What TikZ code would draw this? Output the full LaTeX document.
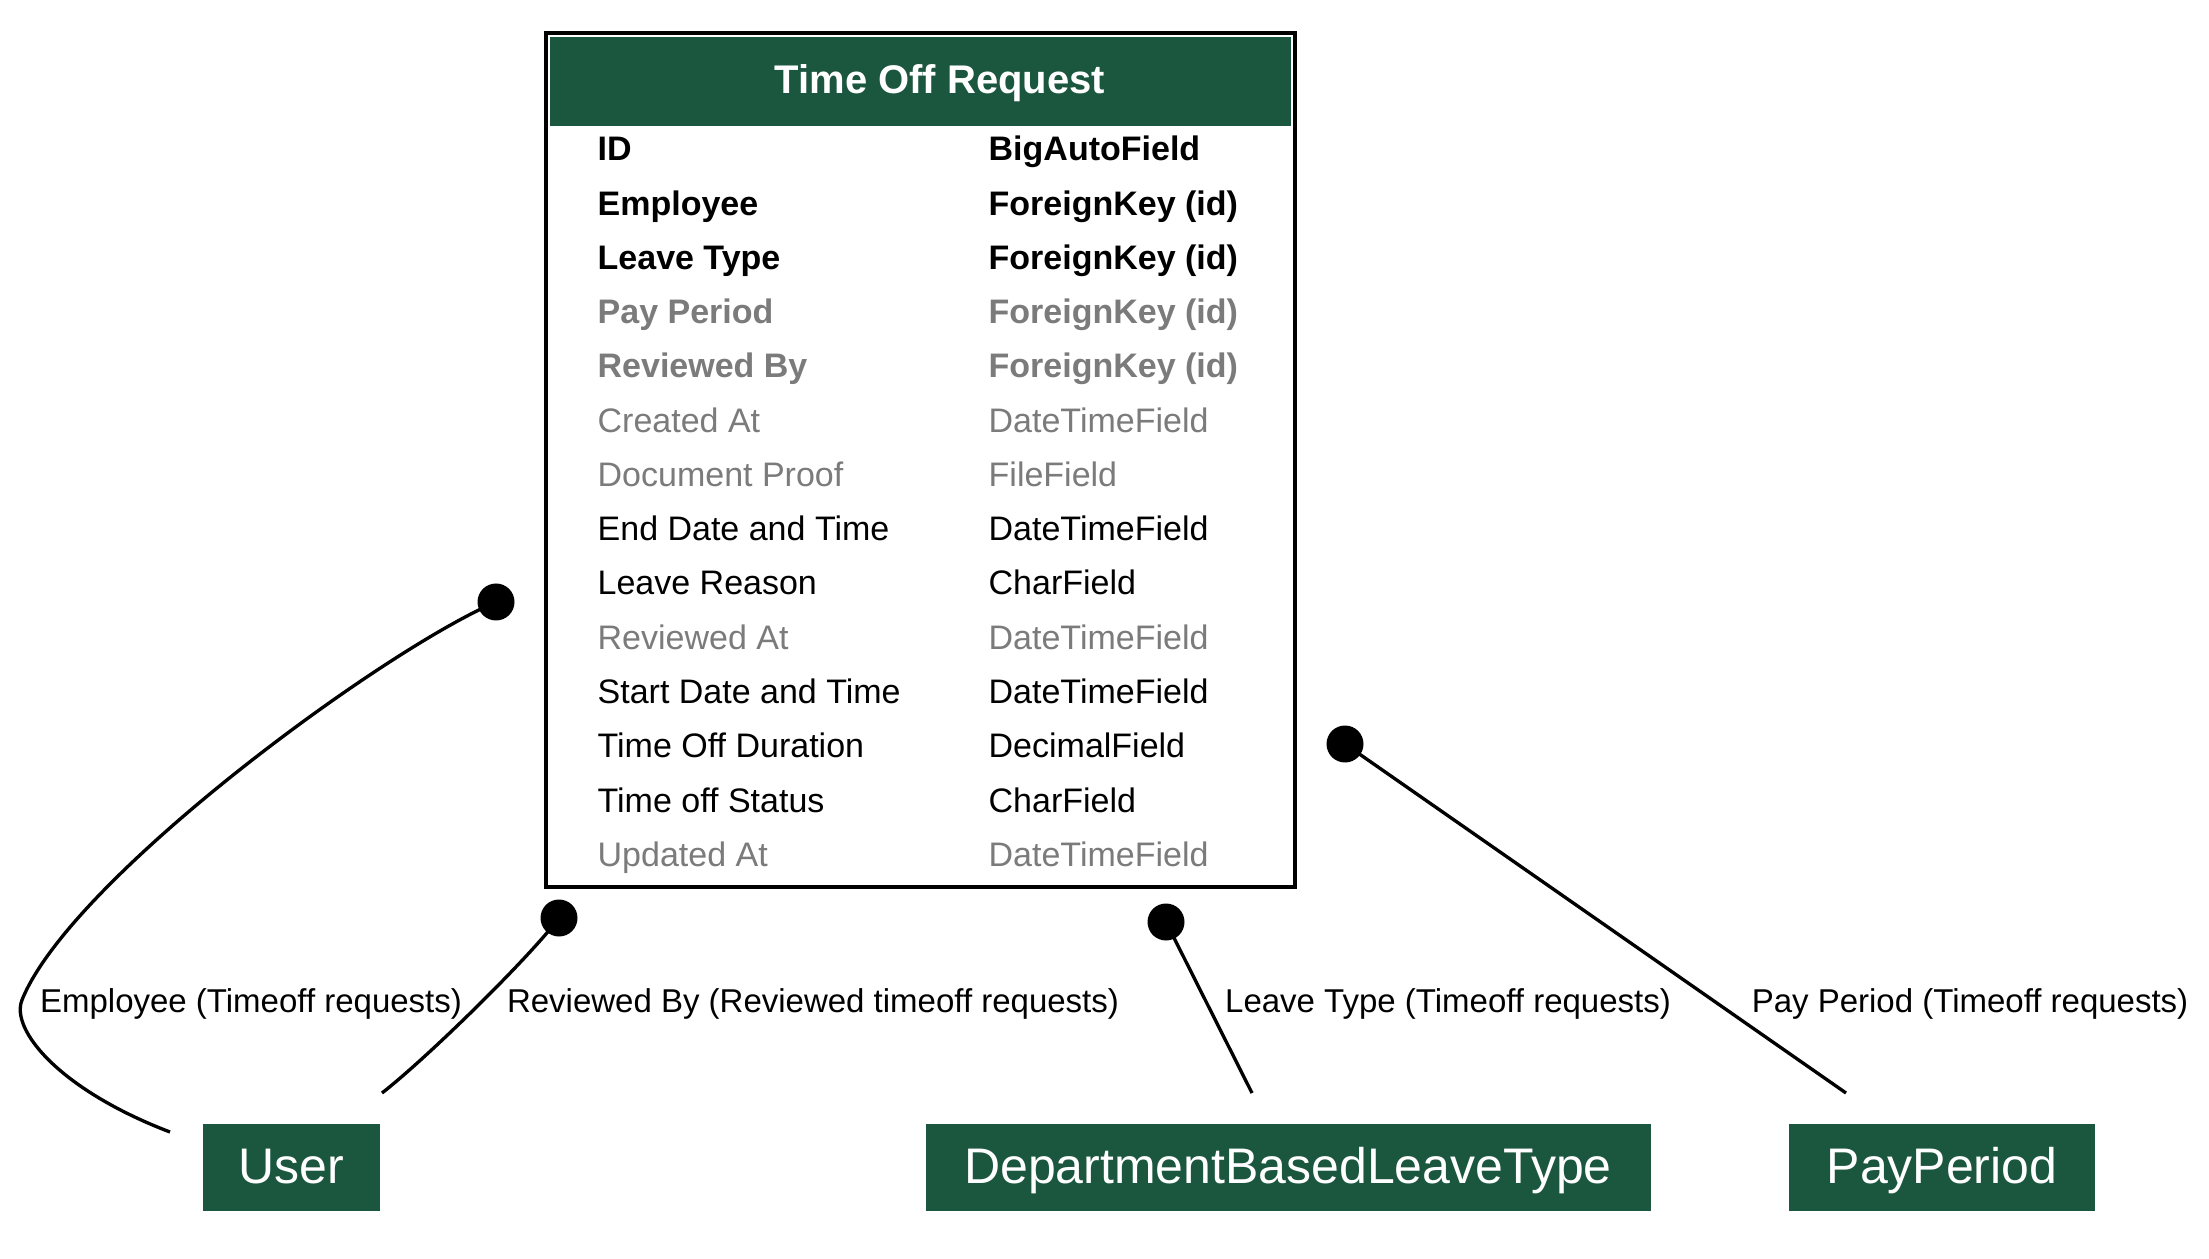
\documentclass[tikz,border=0pt]{standalone}
\usepackage{fontspec}
\setmainfont{Liberation Sans}
\definecolor{hdrgreen}{HTML}{1B563F}
\definecolor{nullgray}{HTML}{7B7B7B}
\begin{document}
\begin{tikzpicture}[x=0.3pt,y=-0.3pt,
  fieldtxt/.style={anchor=base west, inner sep=0pt, font=\fontsize{10.2}{12}\selectfont},
  fieldbold/.style={fieldtxt, font=\fontsize{10.2}{12}\selectfont\bfseries},
  nullbold/.style={fieldbold, text=nullgray},
  nulltxt/.style={fieldtxt, text=nullgray},
  tablebox/.style={draw=black, line width=1pt, fill=white, inner sep=0pt},
  modelbox/.style={fill=hdrgreen, text=white, inner sep=0pt, minimum height=26.1pt,
                   text height=9.3pt, text depth=0pt, font=\fontsize{15}{18}\selectfont},
  edgelabel/.style={anchor=base, inner sep=0pt, font=\fontsize{9.9}{12}\selectfont},
  relline/.style={draw=black, line width=1pt},
  dotend/.style={circle, fill=black, inner sep=0pt, minimum size=11.1pt}
]
\useasboundingbox (0,0) rectangle (2209,1259);

% main table
\node[tablebox, minimum width=224.7pt, minimum height=256.2pt] (tor) at (920.5,460) {};
\node[fill=hdrgreen, inner sep=0pt, minimum width=222.3pt, minimum height=26.7pt] (hdr) at (920.5,81.5) {};
\node[anchor=base, inner sep=0pt, text=white, font=\fontsize{12}{14}\selectfont\bfseries] (title) at (940,94) {Time Off Request};

% fields
\node[fieldbold] (f0) at (597,160.8) {ID};
\node[fieldbold] (t0) at (988,160.8) {BigAutoField};
\node[fieldbold] (f1) at (597,215.1) {Employee};
\node[fieldbold] (t1) at (988,215.1) {ForeignKey (id)};
\node[fieldbold] (f2) at (597,269.3) {Leave Type};
\node[fieldbold] (t2) at (988,269.3) {ForeignKey (id)};
\node[nullbold] (f3) at (597,323.6) {Pay Period};
\node[nullbold] (t3) at (988,323.6) {ForeignKey (id)};
\node[nullbold] (f4) at (597,377.9) {Reviewed By};
\node[nullbold] (t4) at (988,377.9) {ForeignKey (id)};
\node[nulltxt] (f5) at (597,432.2) {Created At};
\node[nulltxt] (t5) at (988,432.2) {DateTimeField};
\node[nulltxt] (f6) at (597,486.4) {Document Proof};
\node[nulltxt] (t6) at (988,486.4) {FileField};
\node[fieldtxt] (f7) at (597,540.7) {End Date and Time};
\node[fieldtxt] (t7) at (988,540.7) {DateTimeField};
\node[fieldtxt] (f8) at (597,595.0) {Leave Reason};
\node[fieldtxt] (t8) at (988,595.0) {CharField};
\node[nulltxt] (f9) at (597,649.2) {Reviewed At};
\node[nulltxt] (t9) at (988,649.2) {DateTimeField};
\node[fieldtxt] (f10) at (597,703.5) {Start Date and Time};
\node[fieldtxt] (t10) at (988,703.5) {DateTimeField};
\node[fieldtxt] (f11) at (597,757.8) {Time Off Duration};
\node[fieldtxt] (t11) at (988,757.8) {DecimalField};
\node[fieldtxt] (f12) at (597,812.0) {Time off Status};
\node[fieldtxt] (t12) at (988,812.0) {CharField};
\node[nulltxt] (f13) at (597,866.3) {Updated At};
\node[nulltxt] (t13) at (988,866.3) {DateTimeField};

% related models
\node[modelbox, minimum width=53.1pt] (user) at (291.5,1167.5) {User};
\node[modelbox, minimum width=217.5pt] (dblt) at (1288,1167.5) {DepartmentBasedLeaveType};
\node[modelbox, minimum width=91.8pt] (payperiod) at (1942,1167.5) {PayPeriod};

% connector end points
\coordinate (d1) at (496,602);
\coordinate (d2) at (559,918);
\coordinate (d3) at (1166,922);
\coordinate (d4) at (1345,744);
\coordinate (e1) at (170,1132);
\coordinate (e2) at (382,1093);
\coordinate (e3) at (1252,1093);
\coordinate (e4) at (1846,1093);

% connectors
\draw[relline] (d1) .. controls (380,652) and (70,880) .. (22,1000)
                    .. controls (10,1030) and (60,1090) .. (e1);
\draw[relline] (d2) .. controls (529,958) and (427,1058) .. (e2);
\draw[relline] (d3) -- (e3);
\draw[relline] (d4) -- (e4);

\node[dotend] (dot1) at (d1) {};
\node[dotend] (dot2) at (d2) {};
\node[dotend] (dot3) at (d3) {};
\node[dotend] (dot4) at (d4) {};

% connector labels
\node[edgelabel] (l1) at (251,1012) {Employee (Timeoff requests)};
\node[edgelabel] (l2) at (813,1012) {Reviewed By (Reviewed timeoff requests)};
\node[edgelabel] (l3) at (1448,1012) {Leave Type (Timeoff requests)};
\node[edgelabel] (l4) at (1970,1012) {Pay Period (Timeoff requests)};
\end{tikzpicture}
\end{document}
